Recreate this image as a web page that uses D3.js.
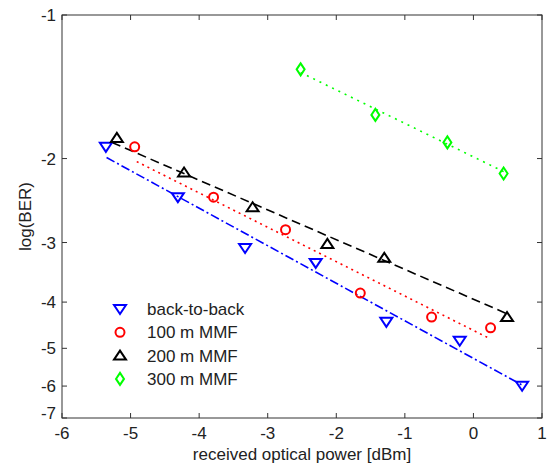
<!DOCTYPE html>
<html>
<head>
<meta charset="utf-8">
<script src="https://cdn.jsdelivr.net/npm/d3@7"></script>
<style>
  body { margin: 0; background: #fff; }
  text { font-family: "Liberation Sans", Arial, sans-serif; fill: #222; }
</style>
</head>
<body>
<div id="chart"></div>
<script>
'use strict';

// Measured points (x = received power in dBm, y = log(BER))
const b2bX = [-5.36, -4.31, -3.33, -2.30, -1.27, -0.20, 0.71];
const b2bY = [-1.89, -2.41, -3.08, -3.31, -4.40, -4.82, -5.99];
const mmf100X = [-4.94, -3.79, -2.74, -1.65, -0.61, 0.25];
const mmf100Y = [-1.89, -2.41, -2.82, -3.83, -4.30, -4.53];
const mmf200X = [-5.20, -4.22, -3.22, -2.13, -1.30, 0.49];
const mmf200Y = [-1.81, -2.14, -2.53, -3.02, -3.23, -4.30];
const mmf300X = [-2.52, -1.43, -0.38, 0.44];
const mmf300Y = [-1.30, -1.62, -1.85, -2.15];

// Fit line endpoints
const b2bFitX = [-5.35, 0.71], b2bFitY = [-1.99, -5.97];
const mmf100FitX = [-4.91, 0.25], mmf100FitY = [-2.03, -4.78];
const mmf200FitX = [-5.27, 0.52], mmf200FitY = [-1.85, -4.25];
const mmf300FitX = [-2.52, 0.44], mmf300FitY = [-1.32, -2.13];

const xTicks = [-6, -5, -4, -3, -2, -1, 0, 1];
const yTicks = [-1, -2, -3, -4, -5, -6, -7];
const labels = ['back-to-back', '100 m MMF', '200 m MMF', '300 m MMF'];

const width = 550, height = 468;
const margin = {left: 62, top: 15, right: 8, bottom: 50};
const fontSize = 17;

let svg = d3.select('#chart').append('svg')
    .attr('width', width).attr('height', height);

let x = d3.scaleLinear().domain([-6, 1]).range([margin.left, width - margin.right]);
// BER axis: log of -log(BER)
let yLog = d3.scaleLog().domain([1, 7]).range([margin.top, height - margin.bottom]);
let y = v => yLog(-v);

const series = [
    {xs: b2bX, ys: b2bY, fx: b2bFitX, fy: b2bFitY, color: '#0000ff', dash: '9,3,2,3', marker: 'down'},
    {xs: mmf100X, ys: mmf100Y, fx: mmf100FitX, fy: mmf100FitY, color: '#ff0000', dash: '2,4', marker: 'circle'},
    {xs: mmf200X, ys: mmf200Y, fx: mmf200FitX, fy: mmf200FitY, color: '#000000', dash: '9,5', marker: 'up'},
    {xs: mmf300X, ys: mmf300Y, fx: mmf300FitX, fy: mmf300FitY, color: '#00ff00', dash: '2,5', marker: 'diamond'}
];

function markerPath(type) {
    if (type === 'down') return 'M-6,-4 L6,-4 L0,5 Z';
    if (type === 'up') return 'M-6,4 L6,4 L0,-5 Z';
    if (type === 'diamond') return 'M0,-6 L4,0 L0,6 L-4,0 Z';
    return null;
}

function drawMarker(g, type, color) {
    if (type === 'circle') {
        g.append('circle').attr('r', 4.5)
            .attr('fill', 'none').attr('stroke', color).attr('stroke-width', 2);
    } else {
        g.append('path').attr('d', markerPath(type))
            .attr('fill', 'none').attr('stroke', color).attr('stroke-width', 2)
            .attr('stroke-linejoin', 'miter');
    }
}

let line = d3.line().x(d => x(d[0])).y(d => y(d[1]));

// Fit lines
series.forEach(s => {
    svg.append('path')
        .datum(d3.zip(s.fx, s.fy))
        .attr('d', line)
        .attr('fill', 'none')
        .attr('stroke', s.color)
        .attr('stroke-width', 1.6)
        .attr('stroke-dasharray', s.dash);
});

// Markers
series.forEach(s => {
    svg.selectAll(null)
        .data(d3.zip(s.xs, s.ys))
        .join('g')
        .attr('transform', d => `translate(${x(d[0])},${y(d[1])})`)
        .each(function() { drawMarker(d3.select(this), s.marker, s.color); });
});

// Axes box
let x0 = margin.left, x1 = width - margin.right, y0 = margin.top, y1 = height - margin.bottom;
svg.append('rect')
    .attr('x', x0).attr('y', y0).attr('width', x1 - x0).attr('height', y1 - y0)
    .attr('fill', 'none').attr('stroke', '#333').attr('stroke-width', 1);

const tickLen = 5;
xTicks.forEach(t => {
    svg.append('line').attr('x1', x(t)).attr('x2', x(t)).attr('y1', y1).attr('y2', y1 - tickLen)
        .attr('stroke', '#333');
    svg.append('line').attr('x1', x(t)).attr('x2', x(t)).attr('y1', y0).attr('y2', y0 + tickLen)
        .attr('stroke', '#333');
    svg.append('text').attr('x', x(t)).attr('y', y1 + 21)
        .attr('text-anchor', 'middle').attr('font-size', fontSize).text(t);
});
yTicks.forEach(t => {
    svg.append('line').attr('x1', x0).attr('x2', x0 + tickLen).attr('y1', y(t)).attr('y2', y(t))
        .attr('stroke', '#333');
    svg.append('line').attr('x1', x1).attr('x2', x1 - tickLen).attr('y1', y(t)).attr('y2', y(t))
        .attr('stroke', '#333');
    svg.append('text').attr('x', x0 - 6).attr('y', y(t) + (t === -7 ? 1 : 6))
        .attr('text-anchor', 'end').attr('font-size', fontSize).text(t);
});

// Axis titles
svg.append('text').attr('x', (x0 + x1) / 2).attr('y', y1 + 42)
    .attr('text-anchor', 'middle').attr('font-size', fontSize).text('received optical power [dBm]');
svg.append('text')
    .attr('transform', `translate(31,${(y0 + y1) / 2}) rotate(-90)`)
    .attr('text-anchor', 'middle').attr('font-size', fontSize).text('log(BER)');

// Legend
let legend = svg.append('g').attr('transform', 'translate(120,309)');
series.forEach((s, i) => {
    let row = legend.append('g').attr('transform', `translate(0,${i * 23.3})`);
    drawMarker(row, s.marker, s.color);
    row.append('text').attr('x', 27).attr('y', 6).attr('font-size', fontSize).text(labels[i]);
});
</script>
</body>
</html>
